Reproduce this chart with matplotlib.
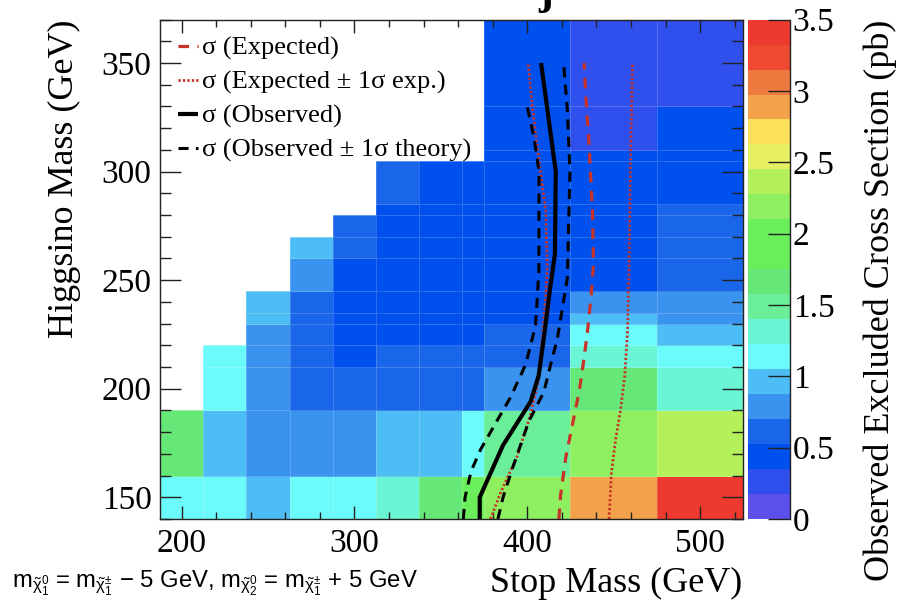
import numpy as np
import matplotlib
matplotlib.use("Agg")
import matplotlib.pyplot as plt
from matplotlib.colors import ListedColormap, BoundaryNorm
from matplotlib.ticker import MultipleLocator, FuncFormatter

# ---- binning of the exclusion map ----
stop_edges = [187.5, 212.5, 237.5, 262.5, 287.5, 312.5, 337.5, 362.5, 375, 425, 475, 525]
higgsino_edges = [140, 160, 190, 210, 220, 230, 235, 245, 260, 270, 280, 285, 305, 310, 330, 370]

nan = np.nan
# observed excluded cross section (pb); rows follow higgsino_edges (bottom -> top),
# columns follow stop_edges (left -> right)
xsec = [
    [1.14, 1.14, 0.96, 1.14, 1.14, 1.31, 1.66, 1.90, 2.19, 2.89, 3.40],   # 140-160
    [1.66, 0.96, 0.79, 0.79, 0.79, 0.96, 0.96, 1.14, 1.49, 2.19, 2.36],   # 160-190
    [nan,  1.14, 0.79, 0.61, 0.61, 0.61, 0.61, 0.61, 0.79, 1.66, 1.31],   # 190-210
    [nan,  1.14, 0.79, 0.61, 0.44, 0.61, 0.61, 0.61, 0.61, 1.31, 1.14],   # 210-220
    [nan,  nan,  0.79, 0.61, 0.44, 0.44, 0.44, 0.44, 0.61, 1.14, 0.96],   # 220-230
    [nan,  nan,  0.96, 0.61, 0.44, 0.44, 0.44, 0.44, 0.44, 0.96, 0.79],   # 230-235
    [nan,  nan,  0.96, 0.61, 0.44, 0.44, 0.44, 0.44, 0.44, 0.79, 0.79],   # 235-245
    [nan,  nan,  nan,  0.79, 0.44, 0.44, 0.44, 0.44, 0.44, 0.44, 0.61],   # 245-260
    [nan,  nan,  nan,  0.96, 0.61, 0.44, 0.44, 0.44, 0.44, 0.44, 0.61],   # 260-270
    [nan,  nan,  nan,  nan,  0.61, 0.44, 0.44, 0.44, 0.44, 0.44, 0.61],   # 270-280
    [nan,  nan,  nan,  nan,  nan,  0.44, 0.44, 0.44, 0.44, 0.44, 0.61],   # 280-285
    [nan,  nan,  nan,  nan,  nan,  0.61, 0.44, 0.44, 0.44, 0.44, 0.44],   # 285-305
    [nan,  nan,  nan,  nan,  nan,  nan,  nan,  nan,  0.44, 0.44, 0.44],   # 305-310
    [nan,  nan,  nan,  nan,  nan,  nan,  nan,  nan,  0.44, 0.26, 0.44],   # 310-330
    [nan,  nan,  nan,  nan,  nan,  nan,  nan,  nan,  0.44, 0.26, 0.26],   # 330-370
]

# ---- exclusion contours (stop mass, higgsino mass) ----
obs_stop = [372.5, 372.5, 386.0, 401.9, 406.6, 410.0, 413.5, 416.0, 416.5, 408.0]
obs_higgsino = [140, 150, 174, 194, 206, 226, 248, 262, 300, 350]

obs_lo_stop = [363.0, 364.0, 367.5, 373.0, 381.6, 390.3, 399.0, 404.8, 406.7, 406.8, 403.8, 400.0]
obs_lo_higgsino = [140, 150, 162, 172, 184, 196, 211, 229, 254, 300, 316, 330]

obs_hi_stop = [383.0, 386.0, 391.3, 400.9, 409.6, 413.5, 417.4, 423.2, 424.7, 423.2, 421.0]
obs_hi_higgsino = [140, 150, 163, 185, 198.5, 211, 223, 251, 300, 328.5, 350]

exp_stop = [418.3, 419.3, 422.2, 426.0, 430.0, 432.5, 434.8, 436.8, 438.3, 437.7, 435.7, 433.8, 432.9]
exp_higgsino = [140, 151, 168, 183, 198.5, 212, 226, 241.5, 257, 282, 313, 336, 350]

exp_hi_stop = [447.3, 448.7, 451.2, 454.1, 456.4, 458.0, 458.9, 459.9, 460.9]
exp_hi_higgsino = [140, 161.5, 177, 191, 206, 226, 257, 313, 350]

exp_lo_stop = [378.7, 384.5, 394.2, 401.9, 406.2, 408.7, 410.6, 411.6, 410.7, 406.8, 402.9, 400.5]
exp_lo_higgsino = [140, 152, 169, 188, 203, 223, 241.5, 255, 282, 305, 330, 350]

# ---- colour palette: 20 contour levels from 0 to 3.5 pb ----
levels = np.linspace(0.0, 3.5, 21)
palette = ['#5c50ea', '#3050ee', '#0050ee', '#1a66e8', '#3a93ee', '#4dbdf5',
           '#6cfbfb', '#6af5d5', '#6aee9a', '#66e878', '#6aee5a', '#6aee5a',
           '#8ef060', '#b4f05a', '#e6f062', '#fbe05a', '#f2a24a', '#ef7a40',
           '#ee4a32', '#ee3a2e']
colorbar_ticks = [0, 0.5, 1, 1.5, 2, 2.5, 3, 3.5]

serif = 'Liberation Serif'
sans = 'Liberation Sans'
plt.rcParams['font.family'] = [serif, 'DejaVu Serif']
plt.rcParams['mathtext.fontset'] = 'custom'
plt.rcParams['mathtext.rm'] = sans
plt.rcParams['mathtext.it'] = sans
plt.rcParams['mathtext.bf'] = sans

W, H = 906, 613
fig = plt.figure(figsize=(W / 100, H / 100), dpi=100)
ax = fig.add_axes([160 / W, 1 - 519 / H, 583.3 / W, 499.4 / H])
cax = fig.add_axes([748 / W, 1 - 519 / H, 42 / W, 499.4 / H])

cmap = ListedColormap(palette)
cmap.set_bad((1, 1, 1, 0))
norm = BoundaryNorm(levels, cmap.N)

mesh = ax.pcolormesh(stop_edges, higgsino_edges, np.ma.masked_invalid(np.array(xsec)),
                     cmap=cmap, norm=norm, edgecolors=(1, 1, 1, 0.18), linewidth=0.6)

red = '#c83228'
l_exp, = ax.plot(exp_stop, exp_higgsino, color=red, lw=2.3, ls=(0, (3.3, 2.6)))
l_exphi, = ax.plot(exp_hi_stop, exp_hi_higgsino, color=red, lw=2.0, ls=(0, (0.8, 0.8)))
ax.plot(exp_lo_stop, exp_lo_higgsino, color=red, lw=2.0, ls=(0, (0.8, 0.8)))
l_obs, = ax.plot(obs_stop, obs_higgsino, color='black', lw=3.0, solid_capstyle='butt')
l_obshi, = ax.plot(obs_hi_stop, obs_hi_higgsino, color='black', lw=2.2, ls=(0, (3.3, 2.4)))
ax.plot(obs_lo_stop, obs_lo_higgsino, color='black', lw=2.2, ls=(0, (3.3, 2.4)))

ax.set_xlim(187.5, 525)
ax.set_ylim(140, 370)

ax.xaxis.set_major_locator(MultipleLocator(100))
ax.xaxis.set_minor_locator(MultipleLocator(20))
ax.yaxis.set_major_locator(MultipleLocator(50))
ax.yaxis.set_minor_locator(MultipleLocator(10))
ax.tick_params(which='both', direction='in', top=True, right=True, width=1.0, color='#222222')
ax.tick_params(axis='x', which='major', length=9.4, pad=7, labelsize=24)
ax.tick_params(axis='x', which='minor', length=5.0)
ax.tick_params(axis='y', which='major', length=15.0, pad=6, labelsize=24)
ax.tick_params(axis='y', which='minor', length=7.7)
for s in ax.spines.values():
    s.set_linewidth(1.0)
    s.set_color('#222222')

leg = ax.legend([l_exp, l_exphi, l_obs, l_obshi],
                ['σ (Expected)', 'σ (Expected ± 1σ exp.)', 'σ (Observed)',
                 'σ (Observed ± 1σ theory)'],
                loc='upper left', bbox_to_anchor=(0.031, 0.966), frameon=False,
                fontsize=19, handlelength=0.75, handletextpad=0.15,
                labelspacing=0.38, borderpad=0, borderaxespad=0)

# colour bar
cb = fig.colorbar(mesh, cax=cax, ticks=colorbar_ticks)
cb.outline.set_visible(False)
cax.yaxis.set_major_formatter(FuncFormatter(lambda v, p: f'{v:g}'))
cax.tick_params(axis='y', direction='in', length=15.5, width=1.0, color='#222222',
                labelsize=24, pad=2, right=True, left=False)
cax.minorticks_off()
cax.plot([1, 1], [0, 1], transform=cax.transAxes, color='#222222', lw=1.0, clip_on=False)

fig.text(742 / W, 1 - 583 / H, 'Stop Mass (GeV)', ha='right', va='center', fontsize=26)
fig.text(64 / W, 1 - 20 / H, 'Higgsino Mass (GeV)', rotation=90, ha='center', va='top',
         fontsize=26)
fig.text(880 / W, 1 - 20 / H, 'Observed Excluded Cross Section (pb)', rotation=90,
         ha='center', va='top', fontsize=26)
fig.text(12 / W, 1 - 588 / H,
         r'm$_{\tilde{\chi}^{0}_{1}}$ = m$_{\tilde{\chi}^{\pm}_{1}}$ $-$ 5 GeV, '
         r'm$_{\tilde{\chi}^{0}_{2}}$ = m$_{\tilde{\chi}^{\pm}_{1}}$ + 5 GeV',
         ha='left', va='baseline', fontsize=17.2, family=sans)
# tail of the title line above the frame
fig.text(546 / W, 1 - 4 / H, 'j', ha='center', va='baseline', fontsize=32,
         fontweight='bold', family=serif)

fig.savefig('out.png', dpi=100)
